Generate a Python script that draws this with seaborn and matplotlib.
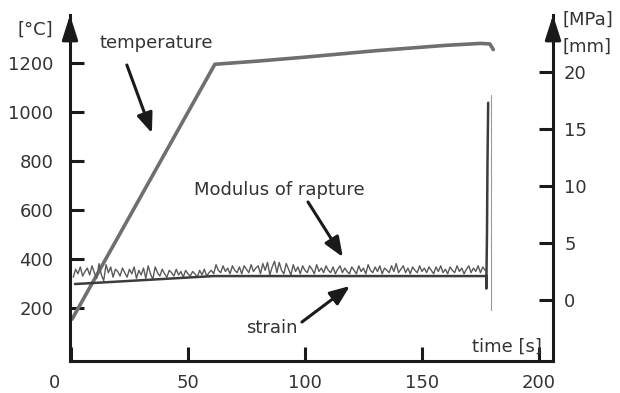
import numpy as np
import pandas as pd
import matplotlib
matplotlib.use('Agg')
import matplotlib.pyplot as plt
import matplotlib.transforms as mtransforms
import seaborn as sns

# Temperature (left axis, degC)
temp_t = [0.5, 61.5, 80, 100, 130, 160, 175, 179, 180.5]
temp_v = [155, 1195, 1208, 1224, 1250, 1272, 1280, 1278, 1255]

# Strain (right axis, mm)
strain_t = [1.7, 61, 177.5, 177.5, 177.8, 178.0, 178.3]
strain_v = [1.4, 2.1, 2.1, 1.0, 6.0, 12.0, 17.3]

# Modulus of rupture (right axis, MPa), sampled every second from t = 1 s
mor_v = [
    2.0, 2.7, 2.3, 2.9, 2.1, 2.5, 2.8, 2.2, 3.0, 2.4,
    1.9, 3.2, 2.2, 1.7, 3.1, 2.4, 2.9, 2.0, 2.7, 2.5,
    2.1, 2.8, 2.4, 2.0, 2.7, 2.3, 2.9, 1.9, 2.6, 2.2,
    2.8, 1.9, 3.0, 2.3, 1.8, 2.9, 2.4, 2.1, 2.7, 2.3,
    2.0, 2.6, 2.4, 2.1, 2.7, 2.2, 2.5, 2.0, 2.6, 2.3,
    2.1, 2.5, 2.3, 2.0, 2.6, 2.2, 2.7, 2.1, 2.4, 2.6,
    2.3, 3.1, 2.6, 2.4, 3.0, 2.5, 2.8, 2.3, 3.0, 2.6,
    2.4, 2.9, 2.3, 3.0, 2.7, 2.4, 3.1, 2.5, 2.8, 3.0,
    2.3, 3.2, 2.6, 3.3, 2.2, 2.9, 3.4, 2.4, 3.3, 2.6,
    2.3, 3.2, 2.7, 2.2, 3.1, 2.5, 2.9, 2.3, 3.0, 2.6,
    2.4, 3.0, 2.7, 2.3, 3.1, 2.5, 2.8, 2.4, 3.0, 2.6,
    2.4, 2.9, 2.3, 2.7, 3.0, 2.4, 2.8, 2.5, 2.3, 2.9,
    2.6, 2.3, 3.0, 2.5, 2.8, 2.3, 3.1, 2.6, 2.4, 2.9,
    2.5, 3.0, 2.3, 2.8, 2.6, 2.4, 3.0, 2.5, 3.2, 2.4,
    2.7, 3.0, 2.4, 2.8, 2.3, 2.9, 2.6, 2.4, 3.0, 2.5,
    2.8, 2.4, 2.9, 2.6, 2.3, 2.9, 2.5, 3.0, 2.4, 2.7,
    2.3, 2.9, 2.6, 2.4, 3.0, 2.5, 2.8, 2.3, 2.7, 3.0,
    2.4, 2.8, 2.5, 3.0, 2.4, 2.9, 2.6,
]
mor_t = np.arange(1, 1 + len(mor_v))

# Rupture spike of the modulus signal
spike_t = [179.5, 179.5]
spike_v = [-0.9, 18.0]

x_ticks = [0, 50, 100, 150, 200]
temp_ticks = [200, 400, 600, 800, 1000, 1200]
right_ticks = [0, 5, 10, 15, 20]

sns.set_style('white')
plt.rcParams['font.family'] = ['DejaVu Sans']
plt.rcParams['font.size'] = 13
INK = '#1a1a1a'

fig = plt.figure(figsize=(6.2, 3.93), dpi=100)
ax1 = fig.add_axes([70 / 620, 1 - 361 / 393, 483 / 620, 346 / 393])
ax2 = ax1.twinx()

sns.lineplot(x=temp_t, y=temp_v, ax=ax1, color='#6f6f6f', lw=2.6,
             estimator=None, sort=False)
sns.lineplot(x=mor_t, y=mor_v, ax=ax2, color='#5a5a5a', lw=1.0,
             estimator=None, sort=False)
sns.lineplot(x=spike_t, y=spike_v, ax=ax2, color='#9a9a9a', lw=0.8,
             estimator=None, sort=False)
sns.lineplot(x=strain_t, y=strain_v, ax=ax2, color='#3c3c3c', lw=1.8,
             estimator=None, sort=False)

ax1.set_xlim(-0.4, 206)
ax1.set_ylim(-16, 1396)
ax2.set_ylim(-5.35, 25.0)

ax1.set_xticks(x_ticks)
ax1.set_xticklabels([str(v) for v in x_ticks])
ax1.set_yticks(temp_ticks)
ax1.set_yticklabels([str(v) for v in temp_ticks])
ax2.set_yticks(right_ticks)
ax2.set_yticklabels([str(v) for v in right_ticks])

for ax in (ax1, ax2):
    ax.set_xlabel('')
    ax.set_ylabel('')
    for side in ('left', 'right', 'bottom', 'top'):
        ax.spines[side].set_visible(False)

ax1.spines['left'].set_visible(True)
ax1.spines['bottom'].set_visible(True)
ax2.spines['right'].set_visible(True)
for sp in (ax1.spines['left'], ax1.spines['bottom'], ax2.spines['right']):
    sp.set_linewidth(2.2)
    sp.set_color(INK)

ax1.tick_params(axis='x', bottom=True, top=False, direction='in', length=10,
                width=2.2, color=INK, pad=9, labelsize=13, labelcolor='#333333')
ax1.tick_params(axis='y', left=True, right=False, direction='in', length=10,
                width=2.2, color=INK, pad=12, labelsize=13, labelcolor='#333333')
ax2.tick_params(axis='y', right=True, left=False, direction='in', length=10,
                width=2.2, color=INK, pad=8, labelsize=13, labelcolor='#333333')
ax2.tick_params(axis='x', bottom=False, top=False, labelbottom=False)

# the "0" label sits left of the origin in the original
lab0 = ax1.get_xticklabels()[0]
lab0.set_transform(lab0.get_transform() +
                   mtransforms.ScaledTranslation(-0.16, 0, fig.dpi_scale_trans))

# arrow heads on the vertical axes
for xa in (0, 1):
    ax1.annotate('', xy=(xa, 1.0), xytext=(xa, 0.95), xycoords='axes fraction',
                 arrowprops=dict(arrowstyle='-|>,head_length=0.75,head_width=0.24',
                                 lw=2.2, color=INK, mutation_scale=20,
                                 shrinkA=0, shrinkB=0))

txt = dict(fontsize=13, color='#333333')
arr = dict(arrowstyle='-|>,head_length=0.6,head_width=0.24', lw=2.2,
           color=INK, mutation_scale=20, shrinkA=0, shrinkB=0)

ax1.text(36.3, 1282, 'temperature', ha='center', va='center', **txt)
ax1.annotate('', xy=(34.6, 914), xytext=(23.9, 1192), arrowprops=arr)
ax1.text(88.9, 682, 'Modulus of rapture', ha='center', va='center', **txt)
ax1.annotate('', xy=(116.2, 408), xytext=(101.3, 633), arrowprops=arr)
ax1.text(85.9, 118, 'strain', ha='center', va='center', **txt)
ax1.annotate('', xy=(119.2, 290), xytext=(98.7, 143), arrowprops=arr)
ax1.text(186.3, 41, 'time [s]', ha='center', va='center', **txt)

fig.text(35 / 620, 1 - 30 / 393, '[°C]', ha='center', va='center', **txt)
fig.text(562 / 620, 1 - 20 / 393, '[MPa]', ha='left', va='center', **txt)
fig.text(562 / 620, 1 - 47 / 393, '[mm]', ha='left', va='center', **txt)

fig.savefig('out.png', dpi=100)
